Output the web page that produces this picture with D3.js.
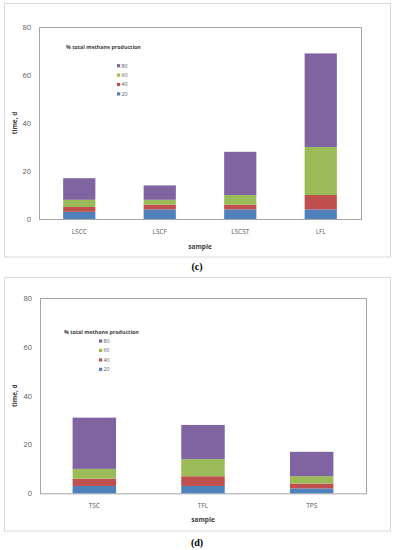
<!DOCTYPE html>
<html><head><meta charset="utf-8">
<script src="https://cdn.jsdelivr.net/npm/d3@7/dist/d3.min.js"></script>
<style>html,body{margin:0;padding:0;background:#fff;}svg{display:block;}</style>
</head><body>
<svg id="chart" width="393" height="550"></svg>
<script>
// Panel (c)
const categoriesC = ["LSCC", "LSCF", "LSCST", "LFL"];
const c20 = [3, 4, 4, 4];
const c40 = [2, 2, 2, 6];
const c60 = [3, 2, 4, 20];
const c80 = [9, 6, 18, 39];
// Panel (d)
const categoriesD = ["TSC", "TFL", "TPS"];
const d20 = [3, 3, 2];
const d40 = [3, 4, 2];
const d60 = [4, 7, 3];
const d80 = [21, 14, 10];
// shared
const seriesNames = ["20", "40", "60", "80"];
const seriesColors = ["#4F81BD", "#C0504D", "#9BBB59", "#8064A2"];
const yTicks = [0, 20, 40, 60, 80];
const legendTitle = "% total methane production";
const xTitle = "sample";
const yTitle = "time, d";

const svg = d3.select("#chart");
const font = "'Open Sans', 'Noto Sans', sans-serif";

function panel(cfg) {
  const g = svg.append("g");
  g.append("rect").attr("x", cfg.box[0] + 0.5).attr("y", cfg.box[1] + 0.5)
    .attr("width", cfg.box[2] - cfg.box[0]).attr("height", cfg.box[3] - cfg.box[1])
    .attr("fill", "#fff").attr("stroke", "#d9d9d9").attr("stroke-width", 1);

  const x = d3.scaleBand().domain(cfg.cats).range([cfg.left, cfg.right]).paddingInner(0.6).paddingOuter(0.3);
  const y = d3.scaleLinear().domain([0, 80]).range([cfg.bottom, cfg.top]);

  g.append("rect").attr("x", cfg.left + 0.5).attr("y", cfg.top + 0.5)
    .attr("width", cfg.right - cfg.left).attr("height", cfg.bottom - cfg.top)
    .attr("fill", "none").attr("stroke", "#a6a6a6").attr("stroke-width", 1);

  const rows = cfg.cats.map((c, i) => {
    const o = { cat: c };
    seriesNames.forEach((s, k) => o[s] = cfg.vals[k][i]);
    return o;
  });
  const stacked = d3.stack().keys(seriesNames)(rows);
  g.selectAll("g.s").data(stacked).join("g").attr("fill", (d, i) => seriesColors[i])
    .selectAll("rect").data(d => d).join("rect")
    .attr("x", d => x(d.data.cat)).attr("width", x.bandwidth())
    .attr("y", d => y(d[1])).attr("height", d => y(d[0]) - y(d[1]));

  const ya = d3.axisLeft(y).tickValues(yTicks).tickSize(0).tickPadding(8);
  const yg = g.append("g").attr("transform", `translate(${cfg.left},0)`).call(ya);
  yg.select(".domain").remove();
  yg.selectAll("text").attr("font-family", font).attr("font-size", 7.5).attr("fill", "#595959");

  const xa = d3.axisBottom(x).tickSize(0).tickPadding(10);
  const xg = g.append("g").attr("transform", `translate(0,${cfg.bottom})`).call(xa);
  xg.select(".domain").remove();
  xg.selectAll("text").attr("font-family", font).attr("font-size", 6.5).attr("fill", "#595959");

  g.append("text").attr("x", (cfg.left + cfg.right) / 2).attr("y", cfg.xTitleY)
    .attr("text-anchor", "middle").attr("font-family", font).attr("font-size", 6.5)
    .attr("font-weight", "bold").attr("fill", "#404040").text(xTitle);

  g.append("text").attr("transform", `translate(15,${(cfg.top + cfg.bottom) / 2}) rotate(-90)`)
    .attr("text-anchor", "middle").attr("dy", "0.35em").attr("font-family", font).attr("font-size", 6.5)
    .attr("font-weight", "bold").attr("fill", "#404040").text(yTitle);

  g.append("text").attr("x", cfg.legTitle[0]).attr("y", cfg.legTitle[1]).attr("dy", "0.35em")
    .attr("font-family", font).attr("font-size", 5.3).attr("font-weight", "bold")
    .attr("fill", "#404040").text(legendTitle);

  const order = seriesNames.map((s, i) => i).reverse();
  order.forEach((k, j) => {
    const yy = cfg.legItems[1] + j * cfg.legStep;
    g.append("rect").attr("x", cfg.legItems[0]).attr("y", yy - 1.6).attr("width", 3.2).attr("height", 3.2)
      .attr("fill", seriesColors[k]);
    g.append("text").attr("x", cfg.legItems[0] + 4.5).attr("y", yy).attr("dy", "0.35em")
      .attr("font-family", font).attr("font-size", 5.3).attr("fill", "#595959").text(seriesNames[k]);
  });

  svg.append("text").attr("x", 197).attr("y", cfg.labelY).attr("dy", "0.35em")
    .attr("text-anchor", "middle").attr("font-family", "'Liberation Serif', 'DejaVu Serif', serif")
    .attr("font-size", 10).attr("font-weight", "bold").attr("fill", "#000").text(cfg.label);
}

panel({
  cats: categoriesC, vals: [c20, c40, c60, c80],
  box: [4, 3, 390, 256.5], left: 39, right: 361, top: 27, bottom: 219,
  xTitleY: 248.5, legTitle: [66, 47], legItems: [117, 65.7], legStep: 9.4,
  labelY: 266.5, label: "(c)"
});
panel({
  cats: categoriesD, vals: [d20, d40, d60, d80],
  box: [4, 277, 390, 530.5], left: 40, right: 366, top: 298, bottom: 493.3,
  xTitleY: 521.5, legTitle: [64, 332.3], legItems: [99, 341], legStep: 9.45,
  labelY: 542.5, label: "(d)"
});
</script>
</body></html>
